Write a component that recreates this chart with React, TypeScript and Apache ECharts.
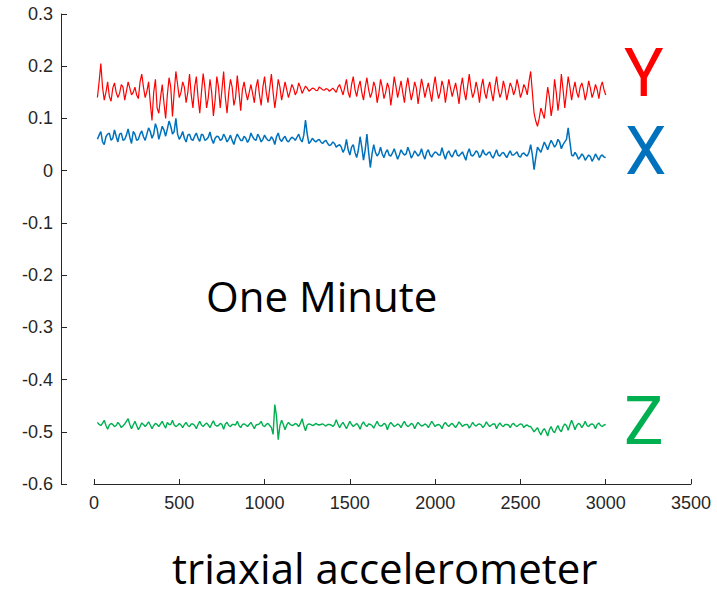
import React, { useEffect, useRef } from "react";
import * as echarts from "echarts";

// Sample index (x) for the main samples
const sampleX = [
  20, 40, 60, 80, 100, 120, 140, 160, 180, 200, 220, 240, 260, 280, 300, 320, 340, 360, 380, 400,
  420, 440, 460, 480, 500, 520, 540, 560, 580, 600, 620, 640, 660, 680, 700, 720, 740, 760, 780, 800,
  820, 840, 860, 880, 900, 920, 940, 960, 980, 1000, 1020, 1040, 1060, 1080, 1100, 1120, 1140, 1160, 1180, 1200,
  1220, 1240, 1260, 1280, 1300, 1320, 1340, 1360, 1380, 1400, 1420, 1440, 1460, 1480, 1500, 1520, 1540, 1560, 1580, 1600,
  1620, 1640, 1660, 1680, 1700, 1720, 1740, 1760, 1780, 1800, 1820, 1840, 1860, 1880, 1900, 1920, 1940, 1960, 1980, 2000,
  2020, 2040, 2060, 2080, 2100, 2120, 2140, 2160, 2180, 2200, 2220, 2240, 2260, 2280, 2300, 2320, 2340, 2360, 2380, 2400,
  2420, 2440, 2460, 2480, 2500, 2520, 2540, 2560, 2580, 2600, 2620, 2640, 2660, 2680, 2700, 2720, 2740, 2760, 2780, 2800,
  2820, 2840, 2860, 2880, 2900, 2920, 2940, 2960, 2980, 3000,
];

// Sample index (x) for the in-between samples
const midX = [
  30, 50, 70, 90, 110, 130, 150, 170, 190, 210, 230, 250, 270, 290, 310, 330, 350, 370, 390, 410,
  430, 450, 470, 490, 510, 530, 550, 570, 590, 610, 630, 650, 670, 690, 710, 730, 750, 770, 790, 810,
  830, 850, 870, 890, 910, 930, 950, 970, 990, 1010, 1030, 1050, 1070, 1090, 1110, 1130, 1150, 1170, 1190, 1210,
  1230, 1250, 1270, 1290, 1310, 1330, 1350, 1370, 1390, 1410, 1430, 1450, 1470, 1490, 1510, 1530, 1550, 1570, 1590, 1610,
  1630, 1650, 1670, 1690, 1710, 1730, 1750, 1770, 1790, 1810, 1830, 1850, 1870, 1890, 1910, 1930, 1950, 1970, 1990, 2010,
  2030, 2050, 2070, 2090, 2110, 2130, 2150, 2170, 2190, 2210, 2230, 2250, 2270, 2290, 2310, 2330, 2350, 2370, 2390, 2410,
  2430, 2450, 2470, 2490, 2510, 2530, 2550, 2570, 2590, 2610, 2630, 2650, 2670, 2690, 2710, 2730, 2750, 2770, 2790, 2810,
  2830, 2850, 2870, 2890, 2910, 2930, 2950, 2970, 2990,
];

const yAxisValues = [
  0.14, 0.205, 0.135, 0.17, 0.133, 0.168, 0.14, 0.165, 0.135, 0.17, 0.145, 0.16, 0.138, 0.185, 0.14, 0.17, 0.096, 0.175, 0.11, 0.165,
  0.1, 0.178, 0.104, 0.19, 0.14, 0.17, 0.13, 0.185, 0.12, 0.18, 0.11, 0.186, 0.12, 0.175, 0.105, 0.18, 0.12, 0.19, 0.11, 0.175,
  0.125, 0.182, 0.115, 0.17, 0.135, 0.165, 0.13, 0.175, 0.125, 0.18, 0.13, 0.185, 0.12, 0.175, 0.135, 0.17, 0.14, 0.165, 0.145, 0.168,
  0.148, 0.162, 0.152, 0.158, 0.154, 0.16, 0.155, 0.157, 0.152, 0.158, 0.15, 0.165, 0.145, 0.175, 0.14, 0.18, 0.142, 0.172, 0.135, 0.178,
  0.14, 0.17, 0.13, 0.175, 0.138, 0.168, 0.125, 0.18, 0.14, 0.172, 0.13, 0.178, 0.135, 0.17, 0.128, 0.176, 0.14, 0.168, 0.132, 0.18,
  0.138, 0.172, 0.13, 0.175, 0.142, 0.168, 0.128, 0.178, 0.135, 0.185, 0.14, 0.17, 0.13, 0.176, 0.138, 0.17, 0.133, 0.18, 0.14, 0.172,
  0.135, 0.168, 0.145, 0.175, 0.14, 0.165, 0.145, 0.19, 0.11, 0.085, 0.12, 0.1, 0.16, 0.105, 0.175, 0.115, 0.185, 0.12, 0.18, 0.135,
  0.17, 0.14, 0.168, 0.135, 0.172, 0.14, 0.165, 0.138, 0.17, 0.145,
];
const yAxisMid = [
  0.17, 0.16, 0.15, 0.142, 0.158, 0.15, 0.148, 0.16, 0.152, 0.158, 0.15, 0.145, 0.17, 0.16, 0.152,
  0.13, 0.15, 0.12, 0.14, 0.13, 0.145, 0.16, 0.15, 0.165,
  0.15, 0.16, 0.15, 0.145, 0.16, 0.14, 0.15, 0.16, 0.14, 0.15, 0.135, 0.16, 0.155, 0.14, 0.15, 0.16, 0.14, 0.15, 0.155, 0.15,
  0.15, 0.148, 0.16, 0.145, 0.16, 0.15, 0.158, 0.15, 0.145, 0.16, 0.152, 0.155, 0.152, 0.158, 0.152, 0.16, 0.155,
  0.158, 0.155, 0.157, 0.153, 0.158, 0.154, 0.156, 0.155, 0.154, 0.16,
  0.155, 0.16, 0.15, 0.165, 0.155, 0.16, 0.15, 0.16, 0.155, 0.15, 0.16, 0.148, 0.16, 0.15, 0.158, 0.15, 0.162, 0.155, 0.15, 0.16,
  0.155, 0.15, 0.158, 0.152, 0.16, 0.155, 0.15, 0.16, 0.155, 0.15, 0.16, 0.152, 0.158, 0.155, 0.15, 0.16, 0.152, 0.16, 0.158, 0.15,
  0.155, 0.16, 0.15, 0.158, 0.15, 0.16, 0.155, 0.15, 0.158, 0.152, 0.16, 0.155, 0.16, 0.15, 0.158, 0.17,
  0.15, 0.095, 0.1, 0.11, 0.13, 0.14, 0.125, 0.15, 0.14, 0.155, 0.15, 0.16, 0.155, 0.15, 0.16, 0.155, 0.15, 0.158, 0.15, 0.155, 0.16, 0.155,
];

const xAxisValues = [
  0.06, 0.075, 0.05, 0.07, 0.058, 0.078, 0.055, 0.072, 0.06, 0.08, 0.052, 0.07, 0.06, 0.076, 0.058, 0.082, 0.062, 0.09, 0.06, 0.085,
  0.066, 0.095, 0.07, 0.1, 0.06, 0.075, 0.055, 0.07, 0.058, 0.072, 0.056, 0.068, 0.06, 0.074, 0.052, 0.066, 0.058, 0.07, 0.055, 0.068,
  0.05, 0.07, 0.058, 0.066, 0.054, 0.072, 0.06, 0.07, 0.055, 0.068, 0.058, 0.065, 0.05, 0.072, 0.056, 0.066, 0.055, 0.064, 0.058, 0.07,
  0.055, 0.097, 0.052, 0.062, 0.055, 0.06, 0.052, 0.058, 0.048, 0.055, 0.045, 0.05, 0.035, 0.06, 0.03, 0.05, 0.025, 0.065, 0.02, 0.07,
  0.006, 0.05, 0.028, 0.045, 0.025, 0.04, 0.028, 0.042, 0.022, 0.04, 0.03, 0.045, 0.024, 0.038, 0.028, 0.042, 0.022, 0.04, 0.026, 0.036,
  0.03, 0.044, 0.022, 0.038, 0.026, 0.04, 0.028, 0.036, 0.02, 0.042, 0.028, 0.038, 0.025, 0.04, 0.03, 0.036, 0.024, 0.04, 0.028, 0.035,
  0.025, 0.038, 0.03, 0.036, 0.026, 0.034, 0.028, 0.05, 0.002, 0.045, 0.035, 0.055, 0.04, 0.058, 0.045, 0.06, 0.042, 0.055, 0.082, 0.03,
  0.035, 0.022, 0.032, 0.02, 0.03, 0.018, 0.032, 0.02, 0.03, 0.025,
];
const xAxisMid = [
  0.068, 0.055, 0.065, 0.072, 0.062, 0.066, 0.07, 0.058, 0.068, 0.064, 0.075, 0.058, 0.07, 0.065, 0.07,
  0.075, 0.07, 0.08, 0.072, 0.078, 0.08, 0.085, 0.075, 0.07,
  0.066, 0.062, 0.068, 0.06, 0.066, 0.062, 0.07, 0.058, 0.064, 0.06, 0.062, 0.065, 0.06, 0.064, 0.06, 0.058, 0.062, 0.064, 0.058, 0.062,
  0.06, 0.065, 0.058, 0.064, 0.06, 0.062, 0.058, 0.06, 0.065, 0.06, 0.062, 0.058, 0.06, 0.062, 0.064, 0.06, 0.068,
  0.07, 0.056, 0.058, 0.058, 0.055, 0.056, 0.052, 0.05, 0.052, 0.048,
  0.045, 0.042, 0.04, 0.045, 0.035, 0.04, 0.045, 0.04, 0.035, 0.032, 0.035, 0.033, 0.032, 0.035, 0.03, 0.034, 0.032, 0.03, 0.034, 0.032,
  0.036, 0.03, 0.033, 0.032, 0.03, 0.035, 0.03, 0.032, 0.034, 0.03, 0.032, 0.033, 0.03, 0.034, 0.03, 0.032, 0.028, 0.034, 0.03, 0.032,
  0.035, 0.03, 0.032, 0.034, 0.028, 0.032, 0.03, 0.033, 0.03, 0.032, 0.03, 0.033, 0.028, 0.032, 0.03, 0.035,
  0.03, 0.025, 0.04, 0.045, 0.048, 0.05, 0.052, 0.05, 0.055, 0.05, 0.06, 0.055, 0.028, 0.03, 0.026, 0.028, 0.025, 0.027, 0.024, 0.026, 0.028, 0.026,
];

const zAxisValues = [
  -0.482, -0.488, -0.478, -0.495, -0.484, -0.49, -0.482, -0.492, -0.485, -0.475, -0.494, -0.48, -0.496, -0.483, -0.49, -0.481, -0.494, -0.484, -0.49, -0.48,
  -0.493, -0.486, -0.478, -0.49, -0.484, -0.492, -0.482, -0.49, -0.485, -0.494, -0.48, -0.49, -0.483, -0.492, -0.479, -0.489, -0.484, -0.495, -0.482, -0.49,
  -0.486, -0.48, -0.492, -0.485, -0.49, -0.482, -0.494, -0.486, -0.48, -0.49, -0.484, -0.492, -0.448, -0.515, -0.478, -0.496, -0.482, -0.488, -0.484, -0.49,
  -0.475, -0.498, -0.485, -0.488, -0.484, -0.487, -0.485, -0.489, -0.486, -0.49, -0.477, -0.492, -0.482, -0.494, -0.48, -0.49, -0.484, -0.495, -0.481, -0.49,
  -0.486, -0.493, -0.48, -0.489, -0.484, -0.496, -0.482, -0.49, -0.485, -0.492, -0.48, -0.49, -0.484, -0.494, -0.482, -0.489, -0.485, -0.492, -0.48, -0.49,
  -0.486, -0.494, -0.482, -0.49, -0.484, -0.492, -0.481, -0.49, -0.486, -0.493, -0.482, -0.489, -0.485, -0.492, -0.481, -0.49, -0.485, -0.494, -0.483, -0.49,
  -0.486, -0.492, -0.484, -0.49, -0.485, -0.492, -0.487, -0.49, -0.5, -0.492, -0.506, -0.494, -0.508, -0.49, -0.502, -0.488, -0.5, -0.485, -0.497, -0.478,
  -0.496, -0.484, -0.492, -0.48, -0.49, -0.485, -0.494, -0.483, -0.49, -0.486,
];
const zAxisMid = [
  -0.486, -0.484, -0.488, -0.487, -0.486, -0.488, -0.486, -0.489, -0.48, -0.486, -0.487, -0.488, -0.49, -0.486, -0.486,
  -0.487, -0.488, -0.486, -0.485, -0.487, -0.482, -0.486, -0.487, -0.488,
  -0.487, -0.486, -0.488, -0.485, -0.488, -0.486, -0.487, -0.486, -0.487, -0.485, -0.487, -0.488, -0.486, -0.485, -0.488, -0.486, -0.487, -0.488, -0.486, -0.487,
  -0.486, -0.488, -0.487, -0.485, -0.488, -0.486, -0.488, -0.505, -0.47, -0.488, -0.486, -0.487, -0.486, -0.487, -0.486, -0.484, -0.488,
  -0.487, -0.486, -0.487, -0.486, -0.486, -0.487, -0.486, -0.487, -0.486, -0.485,
  -0.486, -0.488, -0.487, -0.486, -0.487, -0.488, -0.486, -0.487,
  -0.485, -0.488, -0.486, -0.487, -0.488, -0.486, -0.487, -0.486,
  -0.488, -0.487, -0.485, -0.487, -0.488, -0.486, -0.487, -0.486,
  -0.488, -0.487, -0.486, -0.485, -0.487, -0.488, -0.486, -0.487,
  -0.486, -0.488, -0.487, -0.485, -0.487, -0.486, -0.488, -0.487,
  -0.486, -0.487, -0.488, -0.486, -0.487, -0.485, -0.487, -0.488,
  -0.486, -0.487, -0.486, -0.488, -0.487, -0.486, -0.488, -0.49,
  -0.495, -0.496, -0.5, -0.498, -0.5, -0.496, -0.498, -0.494, -0.496, -0.49, -0.488, -0.487, -0.486, -0.488, -0.486, -0.487, -0.488, -0.486, -0.487, -0.486, -0.488, -0.487,
];

const seriesNames = ["Y", "X", "Z"];
const seriesColors = ["#ff0000", "#0072bd", "#00b050"];
const centerLabel = "One Minute";
const bottomLabel = "triaxial accelerometer";

export default function App() {
  const ref = useRef<HTMLDivElement>(null);
  useEffect(() => {
    if (!ref.current) return;
    const chart = echarts.init(ref.current, undefined, { renderer: "svg" });
    const build = (main: number[], mid: number[]) => {
      const pts: number[][] = [];
      main.forEach((v, i) => pts.push([sampleX[i], v]));
      mid.forEach((v, i) => pts.push([midX[i], v]));
      return pts.sort((a, b) => a[0] - b[0]);
    };
    const allData = [
      build(yAxisValues, yAxisMid),
      build(xAxisValues, xAxisMid),
      build(zAxisValues, zAxisMid),
    ];
    const lineWidths = [1.2, 1.5, 1.4];
    const axisColor = "#262626";
    const labelFont = "'Liberation Sans', Arial, sans-serif";
    const bigFont = "'Open Sans', 'Noto Sans', sans-serif";
    const letterFont = "Roboto, 'Open Sans', sans-serif";
    chart.setOption({
      animation: false,
      backgroundColor: "#ffffff",
      grid: { left: 94, right: 26, top: 14, bottom: 111, containLabel: false },
      xAxis: {
        type: "value",
        min: 0,
        max: 3500,
        interval: 500,
        axisLine: { show: true, onZero: false, lineStyle: { color: axisColor, width: 1 } },
        axisTick: { show: true, inside: true, length: 5, lineStyle: { color: axisColor } },
        axisLabel: {
          color: axisColor,
          fontSize: 18,
          fontFamily: labelFont,
          margin: 10,
          formatter: (v: number) => String(Math.round(v)),
        },
        splitLine: { show: false },
      },
      yAxis: {
        type: "value",
        min: -0.6,
        max: 0.3,
        interval: 0.1,
        offset: 33,
        axisLine: { show: true, onZero: false, lineStyle: { color: axisColor, width: 1 } },
        axisTick: { show: true, inside: true, length: 6, lineStyle: { color: axisColor } },
        axisLabel: {
          color: axisColor,
          fontSize: 18,
          fontFamily: labelFont,
          margin: 8,
          formatter: (v: number) => {
            const r = Math.round(v * 10) / 10;
            return r === 0 ? "0" : String(r);
          },
        },
        splitLine: { show: false },
      },
      series: seriesNames.map((n, i) => ({
        name: n,
        type: "line",
        data: allData[i],
        showSymbol: false,
        symbol: "none",
        lineStyle: { color: seriesColors[i], width: lineWidths[i] },
        itemStyle: { color: seriesColors[i] },
      })),
      graphic: [
        {
          type: "text",
          left: 624,
          top: 40,
          style: { text: seriesNames[0], fill: seriesColors[0], font: `66px ${letterFont}` },
        },
        {
          type: "text",
          left: 625,
          top: 118,
          style: { text: seriesNames[1], fill: seriesColors[1], font: `66px ${letterFont}` },
        },
        {
          type: "text",
          left: 624,
          top: 388,
          style: { text: seriesNames[2], fill: seriesColors[2], font: `66px ${letterFont}` },
        },
        {
          type: "text",
          left: 206,
          top: 274,
          style: { text: centerLabel, fill: "#000000", font: `42px ${bigFont}` },
        },
        {
          type: "text",
          left: 172,
          top: 546,
          style: { text: bottomLabel, fill: "#000000", font: `42px ${bigFont}` },
        },
      ],
    });
    return () => chart.dispose();
  }, []);
  return (
    <div
      ref={ref}
      style={{ position: "fixed", left: 0, top: 0, width: 717, height: 595, background: "#fff" }}
    />
  );
}
